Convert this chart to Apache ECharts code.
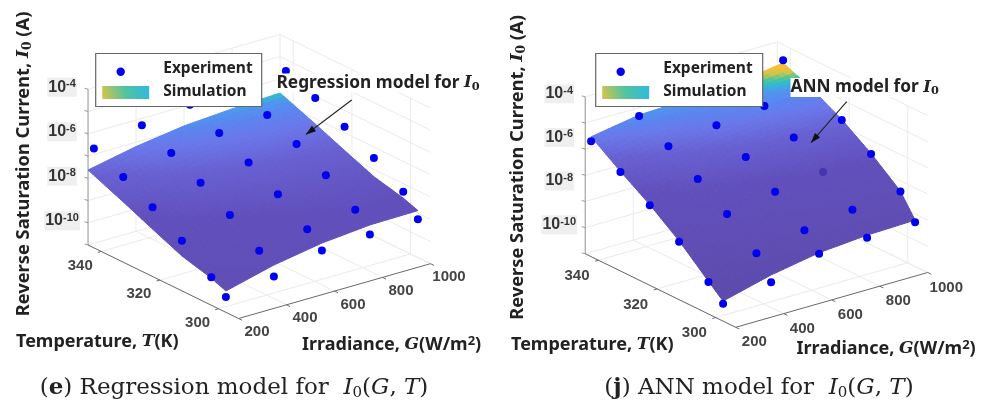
<!DOCTYPE html>
<html><head><meta charset="utf-8">
<style>html,body{margin:0;padding:0;background:#fff}#c{width:985px;height:405px}</style>
<script src="https://cdn.jsdelivr.net/npm/echarts@6/dist/echarts.min.js"></script>
</head><body><div id="c"></div>
<script>
// ---- data (log10 of I0 in A) ----
const gValues = [200, 400, 600, 800, 1000];
const tExperiment = [297.5, 302.5, 312.5, 322.5, 332.5, 342.5];
const tSurfaceLeft = [297.5, 302.5, 312.5, 322.5, 332.5, 344.5];
const tSurfaceRight = [297.5, 302.5, 312.5, 322.5, 332.5, 342.5];
const gTicks = [200, 400, 600, 800, 1000];
const tTicks = [300, 320, 340];
const zTicksLeft = [-11, -10, -9, -8, -7, -6, -5, -4];
const zTicksRight = [-11.2, -10, -8.8, -7.6, -6.4, -5.2, -4];
const zLabels = [-4, -6, -8, -10];
const leftExperiment = [
  [-10.31, -10.00, -9.45, -9.35, -9.28],
  [-9.74, -9.17, -8.82, -8.56, -8.37],
  [-8.75, -8.21, -7.89, -7.65, -7.49],
  [-7.89, -7.40, -7.11, -6.89, -6.73],
  [-7.17, -6.71, -6.42, -6.23, -6.08],
  [-6.53, -6.10, -5.80, -5.65, -5.51]
];
const leftSimulation = [
  [-10.04, -9.49, -9.12, -8.92, -8.89],
  [-9.78, -9.24, -8.88, -8.68, -8.65],
  [-9.43, -8.91, -8.56, -8.38, -8.33],
  [-8.87, -8.37, -8.04, -7.87, -7.80],
  [-8.29, -7.82, -7.50, -7.34, -7.25],
  [-7.63, -7.19, -6.88, -6.73, -6.63]
];
const rightExperiment = [
  [-10.40, -10.05, -9.37, -9.26, -9.18],
  [-9.73, -9.04, -8.62, -8.31, -8.10],
  [-8.54, -7.90, -7.51, -7.23, -7.03],
  [-7.53, -6.95, -6.57, -6.31, -6.13],
  [-6.66, -6.11, -5.77, -5.52, -5.33],
  [-5.91, -5.38, -5.05, -4.85, -4.70]
];
const rightSimulation = [
  [-10.28, -9.71, -9.32, -9.14, -9.08],
  [-9.70, -9.02, -8.60, -8.29, -8.08],
  [-8.50, -7.88, -7.49, -7.21, -7.01],
  [-7.50, -6.93, -6.55, -6.29, -6.11],
  [-6.63, -6.09, -5.75, -5.50, -5.38],
  [-5.70, -5.33, -5.25, -5.15, -4.83]
];
const colorStops = [
  [-11, '#5a49a6'], [-9, '#5f4db3'], [-7.2, '#6150bc'], [-6.3, '#6860d2'],
  [-5.77, '#6a78ea'], [-5.5, '#5a85f0'], [-5.33, '#4f95f0'], [-5.2, '#2fbcd0'],
  [-5.12, '#4cc890'], [-5.02, '#d0c450'], [-4.92, '#f5c030'], [-4, '#fcd030']
];
// ---- panels ----
const left = {ax: 238.5, ay: 318.5, zMin: -11, zPx: 22.25, shift: 1.45, zTicks: zTicksLeft,
  exp: leftExperiment, sim: leftSimulation, tSim: tSurfaceLeft,
  lblT: [-21, 14], lblG: [18.5, 13.5], zLx: -26, zLy: -2};
const right = {ax: 735.7, ay: 327.3, zMin: -11.2, zPx: 21.8, shift: 0, zTicks: zTicksRight,
  exp: rightExperiment, sim: rightSimulation, tSim: tSurfaceRight,
  lblT: [-21.4, 15.8], lblG: [18.6, 15], zLx: -26, zLy: -3};
const T0 = 293.2, T1 = 344.5, ZTOP = -4;
function proj(p, G, T, z) {
  return [p.ax + (G - 200) * 0.24 - (T - T0) * 2.933,
          p.ay - (G - 200) * 0.0685 - (T - T0) * 1.433 - (z - p.zMin) * p.zPx];
}
function hex(c) { return [1, 3, 5].map(i => parseInt(c.substr(i, 2), 16)); }
function colorOf(z) {
  if (z <= colorStops[0][0]) return colorStops[0][1];
  for (let i = 1; i < colorStops.length; i++) {
    if (z <= colorStops[i][0]) {
      const a = hex(colorStops[i - 1][1]), b = hex(colorStops[i][1]);
      const f = (z - colorStops[i - 1][0]) / (colorStops[i][0] - colorStops[i - 1][0]);
      return 'rgb(' + a.map((v, k) => Math.round(v + (b[k] - v) * f)).join(',') + ')';
    }
  }
  return colorStops[colorStops.length - 1][1];
}
// line list for box, grid, ticks
const LG = '#ebebeb', AX = '#6a6a6a', AX2 = '#9a9a9a';
const lines = [];
function seg(a, b, col, w) { lines.push([a[0], a[1], b[0], b[1], col, w]); }
function buildBox(p) {
  const zB = p.zMin, P = (g, t, z) => proj(p, g, t, z);
  p.zTicks.forEach(z => {
    seg(P(200, T1, z), P(1000, T1, z), LG, 1);
    seg(P(1000, T1, z), P(1000, T0, z), LG, 1);
  });
  gTicks.forEach(g => {
    seg(P(g, T0, zB), P(g, T1, zB), LG, 1);
    seg(P(g, T1, zB), P(g, T1, ZTOP), LG, 1);
  });
  tTicks.forEach(t => {
    seg(P(200, t, zB), P(1000, t, zB), LG, 1);
    seg(P(1000, t, zB), P(1000, t, ZTOP), LG, 1);
  });
  seg(P(200, T1, zB), P(200, T1, ZTOP), AX2, 1);
  seg(P(200, T0, zB), P(200, T1, zB), AX, 1);
  seg(P(200, T0, zB), P(1000, T0, zB), AX, 1);
  tTicks.forEach(t => seg(P(200, t, zB), P(186, t, zB), AX, 1));
  gTicks.forEach(g => seg(P(g, T0, zB), P(g, T0 - 1.2, zB), AX, 1));
  p.zTicks.forEach(z => { const a = P(200, T1, z); seg(a, [a[0] - 3.5, a[1] - 1], AX2, 1); });
}
buildBox(left); buildBox(right);
// surface polygons
const polys = [];
function buildSurface(p) {
  const N = 8, ts = p.tSim;
  for (let i = ts.length - 2; i >= 0; i--) for (let j = 0; j < gValues.length - 1; j++) {
    for (let a = N - 1; a >= 0; a--) for (let b = 0; b < N; b++) {
      const val = (u, v) => {
        const z = p.sim[i][j] * (1 - u) * (1 - v) + p.sim[i][j + 1] * (1 - u) * v +
                  p.sim[i + 1][j] * u * (1 - v) + p.sim[i + 1][j + 1] * u * v;
        const T = ts[i] + (ts[i + 1] - ts[i]) * u, G = gValues[j] + (gValues[j + 1] - gValues[j]) * v;
        return [G, T, z];
      };
      const c = [[a / N, b / N], [a / N, (b + 1) / N], [(a + 1) / N, (b + 1) / N], [(a + 1) / N, b / N]].map(q => val(q[0], q[1]));
      const zm = (c[0][2] + c[1][2] + c[2][2] + c[3][2]) / 4;
      const pts = c.map(q => proj(p, q[0], q[1], q[2]));
      polys.push({pts, color: colorOf(zm + p.shift)});
    }
  }
}
buildSurface(left); buildSurface(right);
function dots(p) {
  const out = [];
  tExperiment.forEach((t, i) => gValues.forEach((g, j) => out.push(proj(p, g, t, p.exp[i][j]))));
  return out;
}
// ---- text helpers ----
const SANS = '"Noto Sans", sans-serif', TICK = '"Liberation Sans", sans-serif', SERIF = '"DejaVu Serif", serif';
const graphics = [];
function txt(x, y, text, opt) {
  graphics.push({type: 'text', x, y, z: opt.z || 50, rotation: opt.rotation || 0, silent: true,
    style: Object.assign({text, fill: opt.fill || '#222', align: opt.align || 'center', verticalAlign: 'middle',
      fontFamily: opt.fontFamily || SANS, fontSize: opt.fontSize || 15, fontWeight: opt.fontWeight || 'bold'}, opt.style || {})});
}
function richSet(size) {
  return {
    i: {fontFamily: SERIF, fontStyle: 'italic', fontWeight: 'bold', fontSize: size - 1, fill: '#222'},
    s: {fontFamily: SERIF, fontWeight: 'bold', fontSize: size - 6, fill: '#222', padding: [8, 0, 0, 0]},
    a: {fontFamily: SANS, fontWeight: 'bold', fontSize: size, fill: '#222'},
    u: {fontFamily: SANS, fontWeight: 'bold', fontSize: size - 5, fill: '#222', padding: [0, 0, 7, 0]}
  };
}
function panelTexts(p, o) {
  zLabels.forEach(z => {
    const a = proj(p, 200, T1, z);
    txt(a[0] + p.zLx, a[1] + p.zLy, '{a|10}{b|' + z + '}', {fontFamily: TICK, style: {
      backgroundColor: '#efefef', padding: [1, 1],
      rich: {a: {fontFamily: TICK, fontWeight: 'bold', fontSize: 16, fill: '#333'},
             b: {fontFamily: TICK, fontWeight: 'bold', fontSize: 11, fill: '#333', padding: [0, 0, 6, 0]}}}});
  });
  tTicks.forEach(t => { const a = proj(p, 200, t, p.zMin);
    txt(a[0] + p.lblT[0], a[1] + p.lblT[1], String(t), {fontFamily: TICK, fontSize: 15, fill: '#444'}); });
  gTicks.forEach(g => { const a = proj(p, g, T0, p.zMin);
    txt(a[0] + p.lblG[0], a[1] + p.lblG[1], String(g), {fontFamily: TICK, fontSize: 15, fill: '#444'}); });
  txt(o.yx, o.yy, '{a|Reverse Saturation Current, }{i|I}{s|0}{a| (A)}', {rotation: Math.PI / 2, style: {rich: richSet(18.3)}});
  txt(o.tx, o.ty, '{a|Temperature, }{i|T}{a|(K)}', {align: 'left', style: {rich: richSet(18)}});
  txt(o.gx, o.gy, '{a|Irradiance, }{i|G}{a|(W/m}{u|2}{a|)}', {align: 'left', style: {rich: richSet(18)}});
  // legend
  graphics.push({type: 'rect', z: 40, silent: true, shape: {x: o.lx, y: 53.5, width: o.lw, height: 53},
    style: {fill: '#fff', stroke: '#666', lineWidth: 1.2}});
  graphics.push({type: 'circle', z: 41, silent: true, shape: {cx: o.lx + 25, cy: 71.7, r: 4.2}, style: {fill: '#0000ee'}});
  graphics.push({type: 'rect', z: 41, silent: true, shape: {x: o.lx + 6.5, y: 86, width: 47, height: 13},
    style: {fill: new echarts.graphic.LinearGradient(0, 1, 1, 0, [
      {offset: 0, color: '#d8c448'}, {offset: 0.5, color: '#50c4a0'}, {offset: 1, color: '#2fb8e4'}])}});
  txt(o.lx + 67.5, 69, 'Experiment', {align: 'left', z: 42, fontSize: 15.5});
  txt(o.lx + 67.5, 91.5, 'Simulation', {align: 'left', z: 42, fontSize: 15.5});
  // annotation
  const riA = richSet(17.3);
  txt(o.nx, o.ny, '{a|' + o.note + '}{i|I}{s|0}', {align: 'left', z: 44,
    style: {rich: riA, backgroundColor: '#fff', padding: [0, 0]}});
  const [x1, y1, x2, y2] = o.arrow;
  graphics.push({type: 'line', z: 45, silent: true, shape: {x1, y1, x2, y2}, style: {stroke: '#222', lineWidth: 1.1}});
  const ang = Math.atan2(y2 - y1, x2 - x1), L = 10, W = 3.4;
  const bx = x2 - L * Math.cos(ang), by = y2 - L * Math.sin(ang);
  graphics.push({type: 'polygon', z: 45, silent: true, shape: {points: [[x2, y2],
    [bx - W * Math.sin(ang), by + W * Math.cos(ang)], [bx + W * Math.sin(ang), by - W * Math.cos(ang)]]}, style: {fill: '#111'}});
  // caption
  const riC = {n: {fontFamily: SERIF, fontSize: o.capSize, fill: '#222', fontWeight: 'normal'},
    b: {fontFamily: SERIF, fontSize: o.capSize, fill: '#222', fontWeight: 'bold'},
    i: {fontFamily: SERIF, fontSize: o.capSize, fill: '#222', fontStyle: 'italic', fontWeight: 'normal'},
    s: {fontFamily: SERIF, fontSize: 15, fill: '#222', padding: [10, 0, 0, 0], fontWeight: 'normal'}};
  txt(o.cx, 388, o.cap, {style: {rich: riC}});
}
panelTexts(left, {yx: 23.5, yy: 164, tx: 16, ty: 341.5, gx: 302, gy: 345, lx: 95.7, lw: 166,
  nx: 276.5, ny: 83, note: 'Regression model for ', arrow: [351.7, 100, 306, 134.5], capSize: 23, cx: 234,
  cap: '{n|(}{b|e}{n|) Regression model for  }{i|I}{s|0}{n|(}{i|G}{n|, }{i|T}{n|)}'});
panelTexts(right, {yx: 518, yy: 167.5, tx: 511, ty: 345, gx: 796.5, gy: 349, lx: 595.7, lw: 167,
  nx: 790.5, ny: 87.5, note: 'ANN model for ', arrow: [846.7, 101.7, 811, 142.7], capSize: 23, cx: 759,
  cap: '{n|(}{b|j}{n|) ANN model for  }{i|I}{s|0}{n|(}{i|G}{n|, }{i|T}{n|)}'});

// ---- chart ----
const chart = echarts.init(document.getElementById('c'), null, {renderer: 'canvas'});
const rightDots = dots(right);
chart.setOption({
  animation: false,
  backgroundColor: '#fff',
  grid: {left: 0, right: 0, top: 0, bottom: 0},
  xAxis: {type: 'value', min: 0, max: 985, show: false},
  yAxis: {type: 'value', min: 0, max: 405, inverse: true, show: false},
  graphic: {elements: graphics},
  series: [
    {name: 'Box', type: 'custom', z: 1, silent: true, data: lines, clip: false, progressive: 0,
      renderItem: (params, api) => {
        const l = lines[params.dataIndex];
        const a = api.coord([l[0], l[1]]), b = api.coord([l[2], l[3]]);
        return {type: 'line', shape: {x1: a[0], y1: a[1], x2: b[0], y2: b[1]}, style: {stroke: l[4], lineWidth: l[5]}};
      }},
    {name: 'Simulation', type: 'custom', z: 2, silent: true, data: polys.map((_, i) => [i]), clip: false, progressive: 0,
      renderItem: (params, api) => {
        const q = polys[params.dataIndex];
        return {type: 'polygon', shape: {points: q.pts.map(c => api.coord(c))},
          style: {fill: q.color, stroke: q.color, lineWidth: 1}};
      }},
    {name: 'Experiment', type: 'scatter', z: 3, silent: true, symbolSize: 8,
      itemStyle: {color: '#0000ee', opacity: 1}, data: dots(left)},
    {name: 'Experiment', type: 'scatter', z: 3, silent: true, symbolSize: 8,
      itemStyle: {color: '#0000ee', opacity: 1},
      data: rightDots.map((c, i) => i === 13 ? {value: c, itemStyle: {color: '#4536ae'}} : c)}
  ]
});
</script></body></html>
